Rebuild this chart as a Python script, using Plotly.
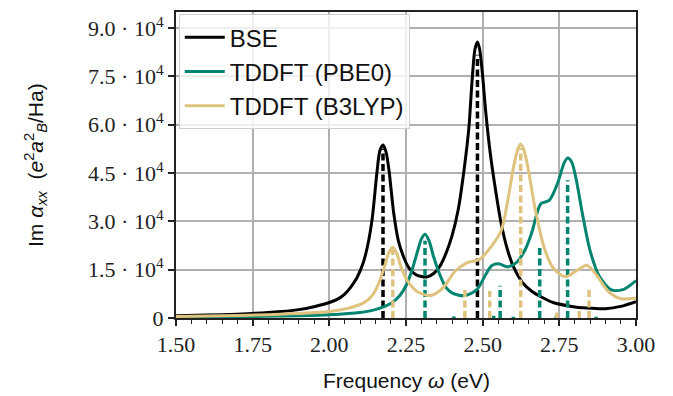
import plotly.graph_objects as go

# ---------------- data ----------------
omega_bse = [1.50, 1.60, 1.70, 1.80, 1.90, 1.95, 2.00, 2.03, 2.05, 2.07, 2.09, 2.11, 2.125, 2.14, 2.155,
             2.165, 2.175, 2.185, 2.195, 2.21, 2.225, 2.24, 2.26, 2.28, 2.30, 2.32, 2.34, 2.36, 2.38,
             2.40, 2.42, 2.44, 2.455, 2.465, 2.475, 2.483, 2.49, 2.50, 2.51, 2.525, 2.54, 2.56, 2.58,
             2.60, 2.63, 2.66, 2.69, 2.73, 2.79, 2.84, 2.90, 2.95, 3.00]
im_bse = [700, 900, 1200, 1700, 2600, 3500, 4800, 6000, 7400, 9600, 12500, 17000, 22500, 31000, 45000,
          52000, 53700, 51500, 45500, 32500, 24000, 19500, 15500, 13600, 12900, 12800, 13800, 16000, 20000,
          25500, 33500, 46500, 59000, 73000, 83500, 85700, 83500, 75000, 64000, 51000, 41000, 29500, 21500,
          16000, 11000, 8300, 6600, 4800, 3600, 3100, 2900, 3600, 5100]

omega_pbe0 = [1.50, 1.70, 1.90, 2.00, 2.10, 2.15, 2.20, 2.23, 2.25, 2.27, 2.29, 2.30, 2.312, 2.325, 2.34,
              2.36, 2.38, 2.40, 2.44, 2.48, 2.51, 2.53, 2.555, 2.58, 2.61, 2.64, 2.66, 2.69, 2.717,
              2.745, 2.765, 2.777, 2.79, 2.805, 2.825, 2.85, 2.88, 2.92, 2.96, 3.00]
im_pbe0 = [250, 400, 700, 1000, 1700, 2600, 4500, 7000, 10000, 15000, 21500, 24500, 26000, 24000, 19000,
           13500, 9500, 7800, 6900, 8700, 13500, 16300, 16800, 15900, 17200, 21500, 26500, 35500, 36500,
           42000, 48000, 49700, 48500, 43000, 32500, 21000, 13000, 8700, 8900, 11600]

omega_b3lyp = [1.50, 1.70, 1.90, 2.00, 2.06, 2.11, 2.14, 2.16, 2.18, 2.195, 2.207, 2.22, 2.235, 2.26,
               2.29, 2.33, 2.37, 2.41, 2.45, 2.49, 2.53, 2.56, 2.58, 2.60, 2.615, 2.624, 2.635, 2.65,
               2.67, 2.70, 2.73, 2.77, 2.81, 2.84, 2.87, 2.91, 2.95, 3.00]
im_b3lyp = [500, 800, 1400, 2000, 3000, 4600, 7000, 10500, 16000, 20500, 22000, 20000, 15500, 10800,
            8000, 7000, 9300, 14500, 17200, 18200, 22500, 27000, 35500, 46500, 52500, 54000, 52000, 45500,
            34500, 22000, 15500, 12800, 14900, 16400, 13500, 8200, 6000, 6200]

# excitation sticks (energy, strength)
stick_e_bse = [2.175, 2.483]
stick_h_bse = [52500, 81700]
stick_e_pbe0 = [2.312, 2.406, 2.536, 2.557, 2.60, 2.686, 2.74, 2.777, 2.87]
stick_h_pbe0 = [24000, 500, 700, 10000, 400, 22500, 600, 42800, 400]
stick_e_b3lyp = [2.207, 2.442, 2.523, 2.624, 2.742, 2.815, 2.847]
stick_h_b3lyp = [21500, 8900, 8400, 52800, 1700, 2800, 9200]

x_ticks = [1.50, 1.75, 2.00, 2.25, 2.50, 2.75, 3.00]
y_ticks = [0, 15000, 30000, 45000, 60000, 75000, 90000]
y_tick_text = ["0", "1.5 · 10<sup>4</sup>", "3.0 · 10<sup>4</sup>", "4.5 · 10<sup>4</sup>",
               "6.0 · 10<sup>4</sup>", "7.5 · 10<sup>4</sup>", "9.0 · 10<sup>4</sup>"]

C_BSE = "#000000"
C_PBE0 = "#018571"
C_B3LYP = "#dfc27d"


def sticks(es, hs):
    xs, ys = [], []
    for e, h in zip(es, hs):
        xs += [e, e, None]
        ys += [0, h, None]
    return xs, ys


fig = go.Figure()

fig.add_trace(go.Scatter(x=omega_bse, y=im_bse, mode="lines", name="BSE",
                         line=dict(color=C_BSE, width=3, shape="spline", smoothing=0.8)))
sx, sy = sticks(stick_e_bse, stick_h_bse)
fig.add_trace(go.Scatter(x=sx, y=sy, mode="lines", showlegend=False,
                         line=dict(color=C_BSE, width=3.5, dash="7px,3.5px")))

fig.add_trace(go.Scatter(x=omega_pbe0, y=im_pbe0, mode="lines", name="TDDFT (PBE0)",
                         line=dict(color=C_PBE0, width=3, shape="spline", smoothing=0.8)))
sx, sy = sticks(stick_e_pbe0, stick_h_pbe0)
fig.add_trace(go.Scatter(x=sx, y=sy, mode="lines", showlegend=False,
                         line=dict(color=C_PBE0, width=3.5, dash="7px,3.5px")))

fig.add_trace(go.Scatter(x=omega_b3lyp, y=im_b3lyp, mode="lines", name="TDDFT (B3LYP)",
                         line=dict(color=C_B3LYP, width=3, shape="spline", smoothing=0.8)))
sx, sy = sticks(stick_e_b3lyp, stick_h_b3lyp)
fig.add_trace(go.Scatter(x=sx, y=sy, mode="lines", showlegend=False,
                         line=dict(color=C_B3LYP, width=3.5, dash="7px,3.5px")))

serif = "Liberation Serif"
sans = "Liberation Sans"

fig.update_layout(
    width=673, height=396,
    margin=dict(l=176, r=37, t=10, b=78),
    paper_bgcolor="white", plot_bgcolor="white",
    showlegend=True,
    legend=dict(x=0.006, y=0.993, xanchor="left", yanchor="top",
                bgcolor="rgba(255,255,255,0.8)", bordercolor="#d0d0d0", borderwidth=1,
                font=dict(family=sans, size=24, color="#111"), tracegroupgap=0,
                itemwidth=40),
    xaxis=dict(range=[1.5, 3.0], tickvals=x_ticks, ticktext=[f"{v:.2f}" for v in x_ticks],
               showgrid=True, gridcolor="#b0b0b0", gridwidth=1.5,
               showline=True, linecolor="#222", linewidth=2, mirror=True,
               ticks="outside", ticklen=6, tickwidth=1.5, tickcolor="#222",
               tickfont=dict(family=serif, size=22, color="#222"),
               minor=dict(dtick=0.05, tick0=1.5, ticks="outside", ticklen=3.5, tickwidth=1.2,
                          tickcolor="#222", showgrid=False),
               zeroline=False),
    yaxis=dict(range=[0, 95000], tickvals=y_ticks, ticktext=y_tick_text,
               showgrid=True, gridcolor="#b0b0b0", gridwidth=1.5,
               showline=True, linecolor="#222", linewidth=2, mirror=True,
               ticks="outside", ticklen=6, tickwidth=1.5, tickcolor="#222",
               tickfont=dict(family=serif, size=22, color="#222"),
               zeroline=False),
    annotations=[
        dict(text="Frequency <i>ω</i> (eV)", xref="paper", yref="paper", x=0.5, y=0,
             yshift=-62, xanchor="center", yanchor="middle", showarrow=False,
             font=dict(family=sans, size=21, color="#111")),
        dict(text="Im <i>α<sub>xx</sub></i>  (<i>e</i><sup>2</sup><i>a</i><sup>2</sup><sub><i>B</i></sub>/Ha)",
             xref="paper", yref="paper", x=0, y=0.5, xshift=-141, xanchor="center",
             yanchor="middle", textangle=-90, showarrow=False,
             font=dict(family=sans, size=21, color="#111")),
    ],
)

fig.write_html("out.html")
